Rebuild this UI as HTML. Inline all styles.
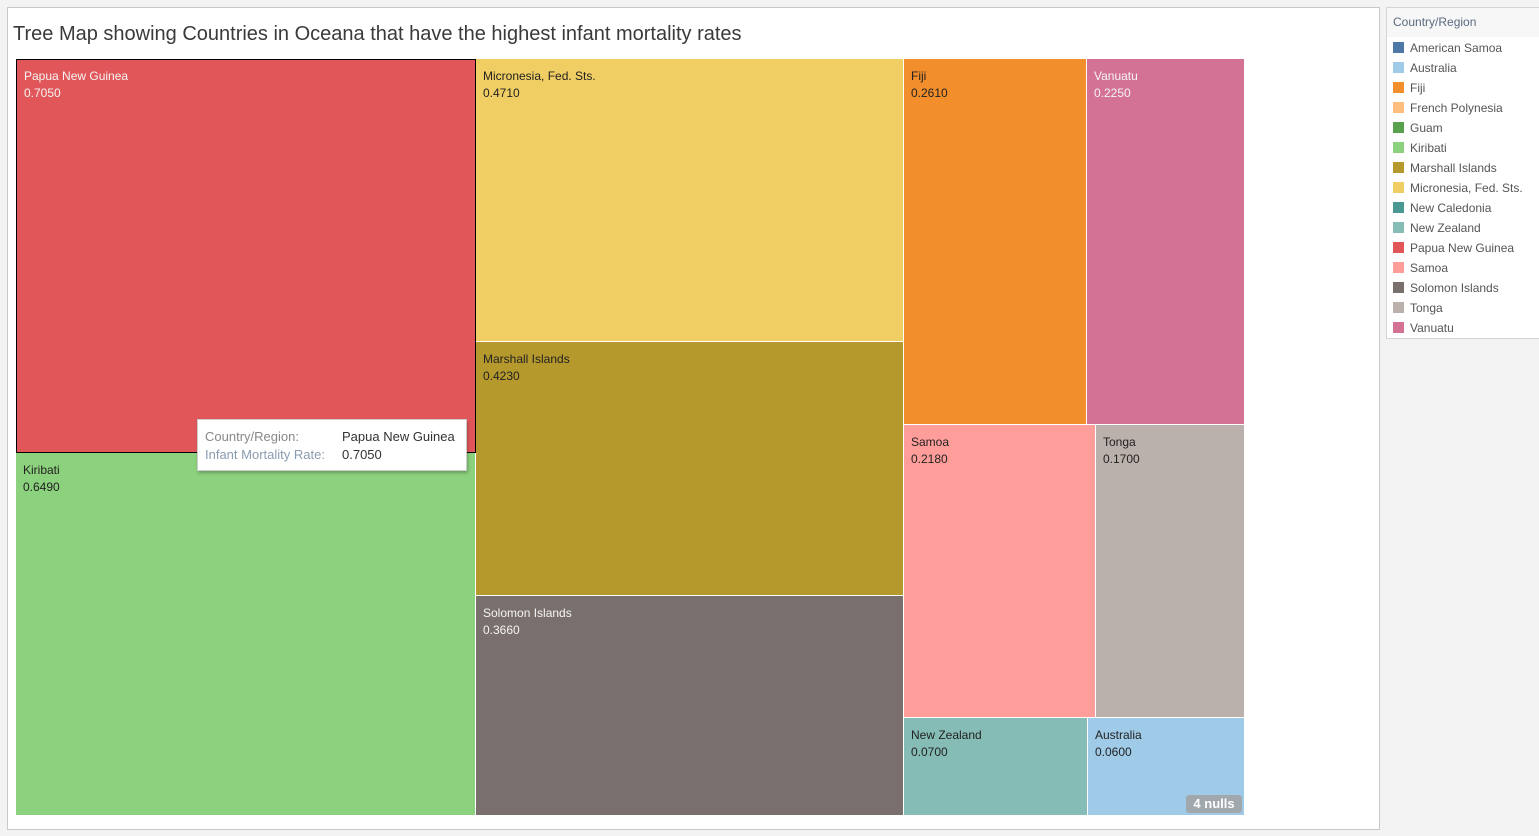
<!DOCTYPE html>
<html><head><meta charset="utf-8">
<style>
body{margin:0;width:1539px;height:836px;background:#f3f3f3;font-family:"Liberation Sans",sans-serif;position:relative;overflow:hidden}
#main{position:absolute;left:7px;top:7px;width:1371px;height:821px;background:#fff;border:1px solid #c8c8c8}
#title{position:absolute;left:13px;top:23px;font-size:20px;color:#3a3a3a}
.cell{position:absolute;box-sizing:border-box;border-right:1px solid #fff;border-bottom:1px solid #fff;font-size:12px;line-height:17px;padding:9px 0 0 7px;overflow:hidden}
#legend{position:absolute;left:1386px;top:7px;width:160px;height:330px;background:#fff;border:1px solid #d4d4d4}
.li{position:absolute;left:6px;font-size:12px;color:#555;height:20px;line-height:20px}
.sw{display:inline-block;width:11px;height:11px;margin-right:6px;vertical-align:-1px}
#tip{position:absolute;left:197px;top:419px;width:268px;height:50px;background:#fff;border:1px solid #ccc;box-shadow:1px 2px 3px rgba(0,0,0,.25);font-size:13px;line-height:18px}
#nulls{position:absolute;left:1186px;top:795px;width:56px;height:18px;background:#a0a8ad;border-radius:3px;color:#fff;font-weight:bold;font-size:13px;text-align:center;line-height:18px}
</style></head><body>
<div id="main"></div>
<div id="title">Tree Map showing Countries in Oceana that have the highest infant mortality rates</div>
<div id="tm"></div>
<div id="legend">
<div style="position:absolute;left:0;top:0;width:160px;height:29px;background:#f7f7f7;font-size:12px;color:#5a6a80;line-height:29px;padding-left:6px">Country/Region</div>
</div>
<div id="tip">
<div style="position:absolute;left:7px;top:8px;color:#888">Country/Region:</div>
<div style="position:absolute;left:144px;top:8px;color:#333">Papua New Guinea</div>
<div style="position:absolute;left:7px;top:26px;color:#8a9cb0">Infant Mortality Rate:</div>
<div style="position:absolute;left:144px;top:26px;color:#333">0.7050</div>
</div>
<div id="nulls">4 nulls</div>
<script>
const countries=["Papua New Guinea","Kiribati","Micronesia, Fed. Sts.","Marshall Islands","Solomon Islands","Fiji","Vanuatu","Samoa","Tonga","New Zealand","Australia"];
const values=[0.705,0.649,0.471,0.423,0.366,0.261,0.225,0.218,0.170,0.070,0.060];
const layout=[[[0],[1]],[[2],[3],[4]],[[5,6],[7,8],[9,10]]];
const legendNames=["American Samoa","Australia","Fiji","French Polynesia","Guam","Kiribati","Marshall Islands","Micronesia, Fed. Sts.","New Caledonia","New Zealand","Papua New Guinea","Samoa","Solomon Islands","Tonga","Vanuatu"];
const colors={"American Samoa":"#4e79a7","Australia":"#a0cbe8","Fiji":"#f28e2b","French Polynesia":"#ffbe7d","Guam":"#59a14f","Kiribati":"#8cd17d","Marshall Islands":"#b6992d","Micronesia, Fed. Sts.":"#f1ce63","New Caledonia":"#499894","New Zealand":"#86bcb6","Papua New Guinea":"#e15759","Samoa":"#ff9d9a","Solomon Islands":"#79706e","Tonga":"#bab0ac","Vanuatu":"#d37295"};
const light={"Papua New Guinea":1,"Solomon Islands":1,"Vanuatu":1};
const X0=16,Y0=59,W=1229,H=757;
const tm=document.getElementById('tm');
const sum=a=>a.reduce((s,i)=>s+values[i],0);
const total=values.reduce((a,b)=>a+b,0);
let cx=X0;
layout.forEach(col=>{
  const cs=col.reduce((s,r)=>s+sum(r),0);
  const cw=W*cs/total;
  let cy=Y0;
  col.forEach(row=>{
    const rs=sum(row);
    const rh=H*rs/cs;
    let rx=cx;
    row.forEach(i=>{
      const w=cw*values[i]/rs;
      const d=document.createElement('div');
      d.className='cell';
      
      
      d.style.left=Math.round(rx)+'px';d.style.top=Math.round(cy)+'px';
      d.style.width=(Math.round(rx+w)-Math.round(rx))+'px';d.style.height=(Math.round(cy+rh)-Math.round(cy))+'px';
      d.style.background=colors[countries[i]];
      d.style.color=light[countries[i]]?'#f4f4f4':'#222';
      if(i===0){d.style.border='1px solid #000';d.style.paddingLeft='7px';d.style.paddingTop='8px';}
      d.innerHTML=countries[i]+'<br>'+values[i].toFixed(4);
      tm.appendChild(d);
      rx+=w;
    });
    cy+=rh;
  });
  cx+=cw;
});
const lg=document.getElementById('legend');
legendNames.forEach((n,k)=>{
  const e=document.createElement('div');
  e.className='li';
  
  
  e.style.top=(30+k*20)+'px';
  e.innerHTML='<span class="sw" style="background:'+colors[n]+'"></span>'+n;
  lg.appendChild(e);
});
</script>
</body></html>
